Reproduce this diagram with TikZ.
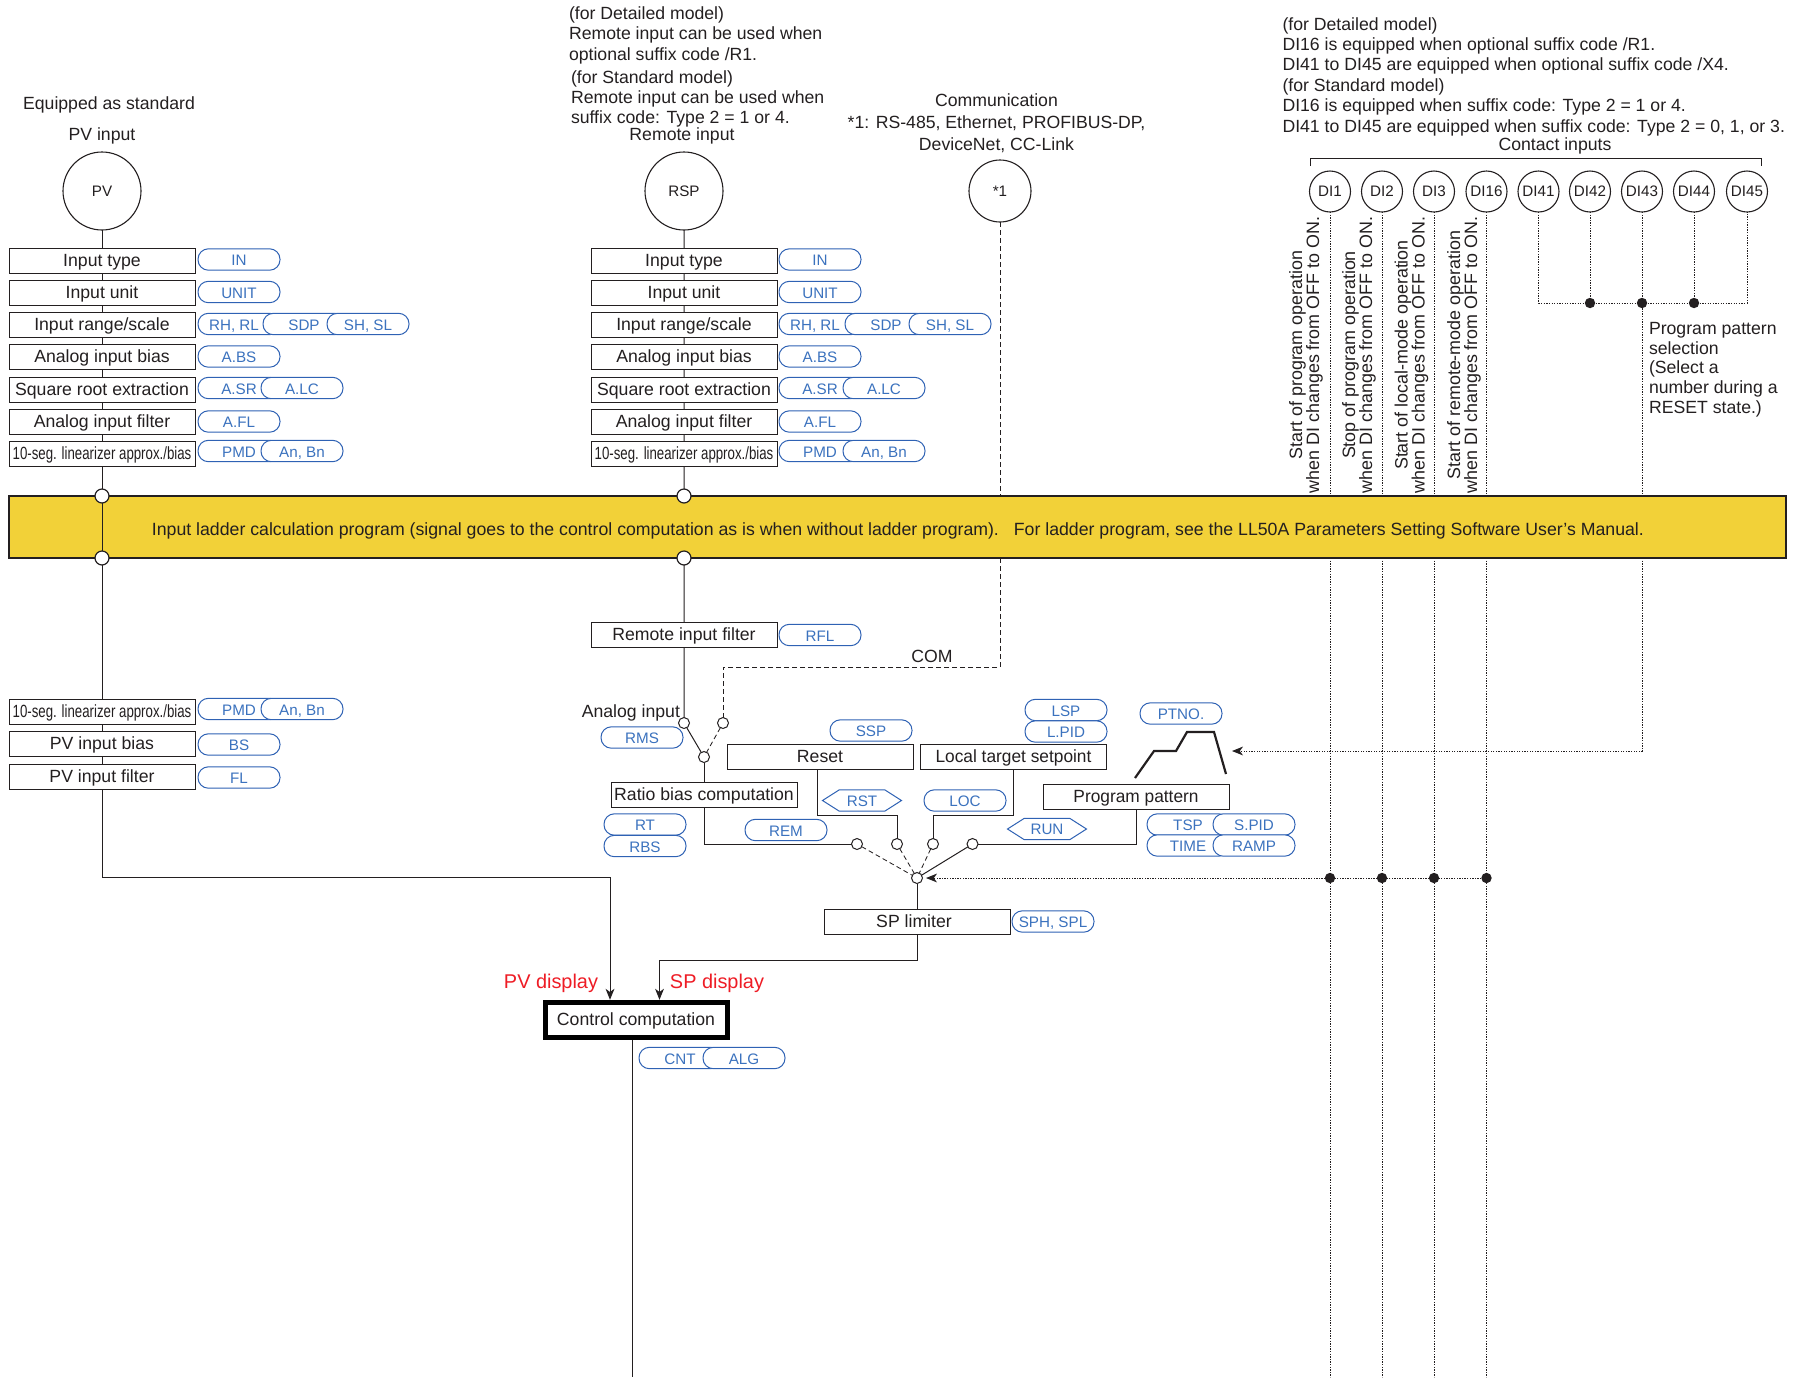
\documentclass[tikz,border=0pt]{standalone}
\usepackage{fontspec}
\usepackage{graphicx}
\setmainfont{Liberation Sans}
\usetikzlibrary{shapes.symbols,arrows.meta}
\definecolor{bluepill}{HTML}{2F62B4}
\definecolor{bluetext}{HTML}{3B72BE}
\definecolor{bandy}{HTML}{F2D138}
\definecolor{redtxt}{HTML}{EE1C25}
\definecolor{linec}{HTML}{231F20}
\newcommand\bodyf{\fontsize{8.83}{10.2}\selectfont}
\newcommand\smallf{\fontsize{7.6}{9}\selectfont}
\newcommand\seg{\scalebox{0.75}[1]{10-seg. linearizer approx./bias}}
\begin{document}
\begin{tikzpicture}[x=0.5pt,y=-0.5pt,
  every node/.style={text=linec},
  box/.style={draw=linec,line width=.5pt,fill=white,minimum width=93pt,minimum height=12.5pt,inner sep=0pt,outer sep=0pt,font=\bodyf,text height=7.6pt,text depth=1.8pt},
  pill/.style={draw=bluepill,line width=.5pt,fill=white,rounded corners=5.2pt,minimum width=41pt,minimum height=10.7pt,inner sep=0pt,outer sep=0pt,font=\smallf,text=bluetext,text height=7.3pt,text depth=1.2pt},
  hexa/.style={signal,signal to=west and east,signal pointer angle=65,draw=bluepill,line width=.5pt,fill=white,minimum width=39.5pt,minimum height=10.7pt,inner sep=0pt,outer sep=0pt,font=\smallf,text=bluetext,text height=6.8pt,text depth=1.2pt},
  bigc/.style={circle,draw=linec,line width=.55pt,fill=white,minimum size=39pt,inner sep=0pt,outer sep=0pt,font=\smallf},
  dic/.style={circle,draw=linec,line width=.55pt,fill=white,minimum size=20.5pt,inner sep=0pt,outer sep=0pt,font=\smallf},
  sw/.style={circle,draw=linec,line width=.5pt,fill=white,minimum size=5.5pt,inner sep=0pt,outer sep=0pt},
  jn/.style={circle,draw=linec,line width=.6pt,fill=white,minimum size=7pt,inner sep=0pt,outer sep=0pt},
  dot/.style={circle,fill=linec,minimum size=5.2pt,inner sep=0pt,outer sep=0pt},
  txt/.style={font=\bodyf,inner sep=0pt,outer sep=0pt},
  rot/.style={inner sep=0pt,outer sep=0pt,rotate=90,align=center,font=\fontsize{8.95}{8.4}\selectfont},
  wire/.style={draw=linec,line width=.5pt},
  dashw/.style={draw=linec,line width=.42pt,dash pattern=on 2.4pt off 1.6pt},
  dotw/.style={draw=linec,line width=.5pt,dash pattern=on .65pt off .65pt},
  tip/.style={-{Stealth[length=5.5pt,width=4.4pt,inset=1.6pt]}},
]
\useasboundingbox (0,0) rectangle (1794,1377);
\coordinate (bot) at (0,1377);

% band
\node[draw=linec,line width=.55pt,fill=bandy,minimum width=888.5pt,minimum height=31pt,inner sep=0pt,outer sep=0pt] (band) at (897.5,527) {};
\node[txt,font=\fontsize{8.85}{10}\selectfont] (bandtext) at (898,530.5) {Input ladder calculation program (signal goes to the control computation as is when without ladder program).\hspace{7.5pt}For ladder program, see the LL50A Parameters Setting Software User’s Manual.};

% PV column
\node[bigc] (pv) at (102,191) {PV};
\node[box] (a1) at (102,260.5) {Input type};
\node[box] (a2) at (102,292.5) {Input unit};
\node[box] (a3) at (102,324.5) {Input range/scale};
\node[box] (a4) at (102,357) {Analog input bias};
\node[box] (a5) at (102,389.5) {Square root extraction};
\node[box] (a6) at (102,421.5) {Analog input filter};
\node[box] (a7) at (102,454) {\seg};
\node[jn] (j1) at (102,496) {};
\node[jn] (j2) at (102,558) {};
\node[box] (a8) at (102,711.5) {\seg};
\node[box] (a9) at (102,744) {PV input bias};
\node[box] (a10) at (102,776.5) {PV input filter};
\draw[wire] (pv)--(a1) (a1)--(a2) (a2)--(a3) (a3)--(a4) (a4)--(a5) (a5)--(a6) (a6)--(a7) (a7)--(j1) (j1)--(j2) (j2)--(a8) (a8)--(a9) (a9)--(a10);

\node[pill] (p1) at (239,259.5) {IN};
\node[pill] (p2) at (239,292) {UNIT};
\node[pill] (p3a) at (239,324) {RH, RL\kern5pt};
\node[pill] (p3b) at (304,324) {SDP};
\node[pill] (p3c) at (368,324) {SH, SL};
\node[pill] (p4) at (239,356.5) {A.BS};
\node[pill] (p5a) at (239,388) {A.SR};
\node[pill] (p5b) at (302,388) {A.LC};
\node[pill] (p6) at (239,421.5) {A.FL};
\node[pill] (p7a) at (239,451) {PMD};
\node[pill] (p7b) at (302,451) {An, Bn};
\node[pill] (p8a) at (239,709) {PMD};
\node[pill] (p8b) at (302,709) {An, Bn};
\node[pill] (p9) at (239,744.5) {BS};
\node[pill] (p10) at (239,777.5) {FL};

% RSP column
\node[bigc] (rsp) at (684,191) {RSP};
\node[box] (b1) at (684,260.5) {Input type};
\node[box] (b2) at (684,292.5) {Input unit};
\node[box] (b3) at (684,324.5) {Input range/scale};
\node[box] (b4) at (684,357) {Analog input bias};
\node[box] (b5) at (684,389.5) {Square root extraction};
\node[box] (b6) at (684,421.5) {Analog input filter};
\node[box] (b7) at (684,454) {\seg};
\node[jn] (j3) at (684,496) {};
\node[jn] (j4) at (684,558) {};
\node[box] (b8) at (684,635) {Remote input filter};
\node[sw] (s1) at (684,723) {};
\node[sw] (s2) at (723,723) {};
\node[sw] (s3) at (704,757) {};
\draw[wire] (rsp)--(b1) (b1)--(b2) (b2)--(b3) (b3)--(b4) (b4)--(b5) (b5)--(b6) (b6)--(b7) (b7)--(j3) (j4)--(b8) (b8)--(s1) (s1)--(s3);

\node[pill] (q1) at (820,259.5) {IN};
\node[pill] (q2) at (820,292) {UNIT};
\node[pill] (q3a) at (820,324) {RH, RL\kern5pt};
\node[pill] (q3b) at (886,324) {SDP};
\node[pill] (q3c) at (950,324) {SH, SL};
\node[pill] (q4) at (820,356.5) {A.BS};
\node[pill] (q5a) at (820,388) {A.SR};
\node[pill] (q5b) at (884,388) {A.LC};
\node[pill] (q6) at (820,421.5) {A.FL};
\node[pill] (q7a) at (820,451) {PMD};
\node[pill] (q7b) at (884,451) {An, Bn};
\node[pill] (q8) at (820,635) {RFL};

% comm
\node[bigc,minimum size=31pt] (c1) at (1000,191) {*1};
\coordinate (k0) at (1000,667);
\draw[dashw] (c1)--(c1 |- band.north);
\draw[dashw] (c1 |- band.south)--(k0)-|(s2);
\draw[dashw] (s2)--(s3);

% middle boxes
\node[box] (rb) at (704,794.5) {Ratio bias computation};
\node[box] (rs) at (820,756.5) {Reset};
\node[box] (lt) at (1013.5,756.5) {\scalebox{.98}[1]{Local target setpoint}};
\node[box] (pp) at (1136,796.5) {\scalebox{.98}[1]{Program pattern}};
\node[box] (sl) at (917,921.5) {\hspace{-3pt}SP limiter};
\node[box,draw=black,line width=2.5pt,outer sep=1.25pt,minimum width=91pt,minimum height=17.7pt] (cc) at (636,1020) {Control computation};
\node[sw] (s4) at (857,844) {};
\node[sw] (s5) at (897,844) {};
\node[sw] (s6) at (933,844) {};
\node[sw] (s7) at (972.5,844) {};
\node[sw] (s8) at (917,878) {};
\coordinate (k1) at (817,815);
\coordinate (k2) at (610,877);
\coordinate (k3) at (659.5,960);
\coordinate (k4) at (632,1040);

\draw[wire] (s3)--(rb);
\draw[wire] (rb.south) |- (s4);
\draw[wire] (k1 |- rs.south) -- (k1) -| (s5);
\draw[wire] (lt.south) -- (lt.south |- k1) -| (s6);
\draw[wire] (pp.south) |- (s7);
\draw[wire] (s7)--(s8);
\draw[dashw] (s4)--(s8);
\draw[dashw] (s5)--(s8);
\draw[dashw] (s6)--(s8);
\draw[wire] (s8)--(sl);
\draw[wire,tip] (sl.south) |- (k3) -- (k3 |- cc.north);
\draw[wire,tip] (a10.south) |- (k2) -- (k2 |- cc.north);
\draw[wire] (k4) -- (k4 |- bot);

% middle pills
\node[pill] (r1) at (642,737.5) {RMS};
\node[pill] (r2) at (871,730.5) {SSP};
\node[pill] (r3) at (1066,710) {LSP};
\node[pill] (r4) at (1066,731.5) {L.PID};
\node[pill] (r5) at (1181,713.5) {PTNO.};
\node[hexa] (r6) at (862,800.5) {RST};
\node[pill] (r7) at (965,800.5) {LOC};
\node[pill] (r8) at (645,824.5) {RT};
\node[pill] (r9) at (645,846) {RBS};
\node[pill] (r10) at (786,830) {REM};
\node[hexa] (r11) at (1047,829) {RUN};
\node[pill] (r12a) at (1188,824.5) {TSP};
\node[pill] (r12b) at (1254,824.5) {S.PID};
\node[pill] (r13a) at (1188,845.5) {TIME};
\node[pill] (r13b) at (1254,845.5) {RAMP};
\node[pill] (r14) at (1053,921.5) {SPH, SPL};
\node[pill] (r15a) at (680,1058) {CNT};
\node[pill] (r15b) at (744,1058) {ALG};

% pattern curve
\coordinate (g1) at (1135,778);
\coordinate (g2) at (1154,751);
\coordinate (g3) at (1176,751);
\coordinate (g4) at (1187,732);
\coordinate (g5) at (1214,732);
\coordinate (g6) at (1226,774);
\draw[draw=linec,line width=1.1pt] (g1)--(g2)--(g3)--(g4)--(g5)--(g6);

% DI
\node[dic] (d1) at (1330,191.5) {DI1};
\node[dic] (d2) at (1382,191.5) {DI2};
\node[dic] (d3) at (1434,191.5) {DI3};
\node[dic] (d4) at (1486.5,191.5) {DI16};
\node[dic] (d5) at (1538.5,191.5) {DI41};
\node[dic] (d6) at (1590,191.5) {DI42};
\node[dic] (d7) at (1642,191.5) {DI43};
\node[dic] (d8) at (1694,191.5) {DI44};
\node[dic] (d9) at (1747,191.5) {DI45};
\coordinate (br1) at (1310.5,158);
\coordinate (br2) at (1761,158);
\coordinate (brb) at (1310.5,166);
\draw[wire] (br1 |- brb)--(br1)--(br2)--(br2 |- brb);
\foreach \n in {d1,d2,d3,d4}{
  \draw[dotw] (\n)--(\n |- band.north);
  \draw[dotw] (\n |- band.south)--(\n |- bot);
}
\coordinate (hz) at (1000,303);
\coordinate (hs) at (1000,878);
\coordinate (t1) at (1232,751);
\coordinate (t2) at (926,878);
\draw[dotw] (d5)|-(d9 |- hz)--(d9);
\draw[dotw] (d6)--(d6 |- hz);
\draw[dotw] (d8)--(d8 |- hz);
\draw[dotw] (d7)--(d7 |- band.north);
\draw[dotw,tip] (d7 |- band.south)--(d7 |- t1)--(t1);
\node[dot] (e1) at (d6 |- hz) {};
\node[dot] (e2) at (d7 |- hz) {};
\node[dot] (e3) at (d8 |- hz) {};
\node[dot] (e4) at (d1 |- hs) {};
\node[dot] (e5) at (d2 |- hs) {};
\node[dot] (e6) at (d3 |- hs) {};
\node[dot] (e7) at (d4 |- hs) {};
\draw[dotw,tip] (e7)--(t2);

% rotated
\node[rot] (t10) at (1306,355) {Start of program operation\\when DI changes from OFF to ON.};
\node[rot] (t11) at (1359,355) {Stop of program operation\\when DI changes from OFF to ON.};
\node[rot] (t12) at (1411.5,355) {Start of local-mode operation\\when DI changes from OFF to ON.};
\node[rot] (t13) at (1464,355) {Start of remote-mode operation\\when DI changes from OFF to ON.};

% labels
\node[txt] (t1a) at (109,105) {Equipped as standard};
\node[txt] (t1b) at (102,135.5) {PV input};
\node[txt,anchor=west,align=left] (t2a) at (569,35.3) {(for Detailed model)\\Remote input can be used when\\optional suffix code /R1.};
\node[txt,anchor=west,align=left] (t2b) at (571,99) {(for Standard model)\\Remote input can be used when\\suffix code: Type 2 = 1 or 4.};
\node[txt] (t2c) at (682,135.5) {Remote input};
\node[txt,align=center,font=\fontsize{8.83}{11}\selectfont] (t3) at (996.5,123.5) {Communication\\*1: RS-485, Ethernet, PROFIBUS-DP,\\DeviceNet, CC-Link};
\node[txt,anchor=west,align=left] (t4) at (1282.5,76.5) {(for Detailed model)\\DI16 is equipped when optional suffix code /R1.\\DI41 to DI45 are equipped when optional suffix code /X4.\\(for Standard model)\\DI16 is equipped when suffix code: Type 2 = 1 or 4.\\DI41 to DI45 are equipped when suffix code: Type 2 = 0, 1, or 3.};
\node[txt] (t5) at (1555,146) {Contact inputs};
\node[txt,anchor=west,align=left,font=\fontsize{8.83}{9.85}\selectfont] (t6) at (1649,369.5) {Program pattern\\selection\\(Select a\\number during a\\RESET state.)};
\node[txt] (t7) at (932,656) {COM};
\node[txt,anchor=east] (t8) at (680,713) {Analog input};
\node[txt,text=redtxt,font=\fontsize{9.95}{11}\selectfont] (t9) at (551,983) {PV display};
\node[txt,text=redtxt,font=\fontsize{9.95}{11}\selectfont] (t14) at (717,983) {SP display};
\end{tikzpicture}
\end{document}
